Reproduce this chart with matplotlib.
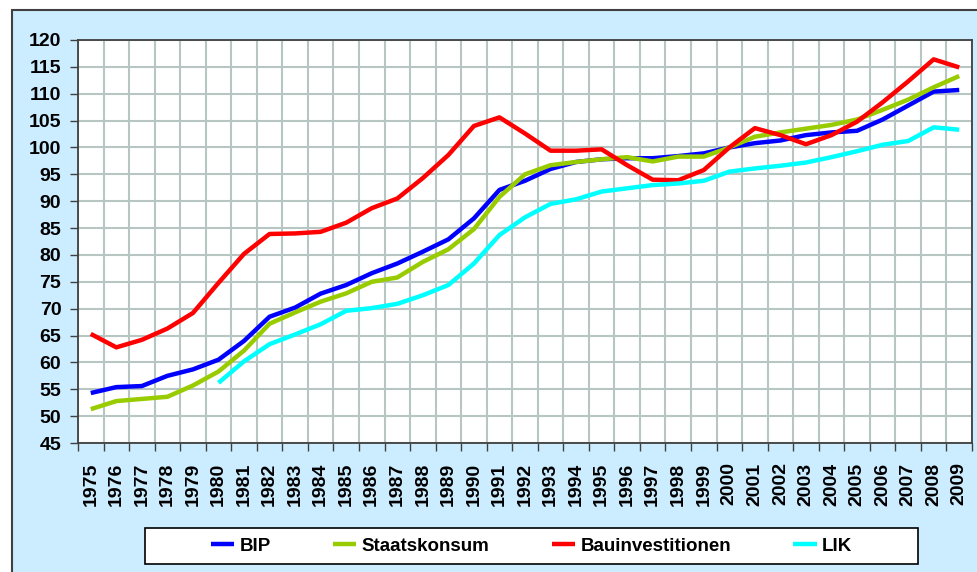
import numpy as np
import matplotlib
matplotlib.use("Agg")
import matplotlib.pyplot as plt
from matplotlib.patches import Rectangle
from matplotlib.ticker import FixedLocator, NullFormatter

plt.rcParams['font.family'] = ['Liberation Sans', 'DejaVu Sans']

years = list(range(1975, 2010))
bip = [54.3, 55.4, 55.6, 57.5, 58.7, 60.5, 64.0, 68.5, 70.2, 72.8,
       74.4, 76.6, 78.4, 80.6, 82.9, 86.8, 92.1, 93.8, 96.0, 97.3,
       97.8, 98.0, 98.0, 98.4, 98.9, 100.0, 100.8, 101.3, 102.3, 102.8,
       103.1, 105.2, 107.8, 110.4, 110.7]
staatskonsum = [51.3, 52.8, 53.2, 53.6, 55.7, 58.3, 62.2, 67.2, 69.3, 71.3,
                72.85, 75.0, 75.8, 78.7, 81.05, 84.8, 90.8, 95.0, 96.7, 97.3,
                97.8, 98.2, 97.4, 98.3, 98.3, 100.0, 102.0, 102.8, 103.5, 104.2,
                105.2, 107.0, 108.9, 111.2, 113.3]
bauinvestitionen = [65.3, 62.8, 64.2, 66.3, 69.2, 74.8, 80.2, 83.9, 84.0, 84.3,
                    86.0, 88.7, 90.5, 94.3, 98.6, 104.0, 105.6, 102.6, 99.4, 99.4,
                    99.65, 96.7, 94.0, 93.9, 95.8, 100.0, 103.6, 102.3, 100.6, 102.3,
                    104.8, 108.4, 112.3, 116.4, 114.9]
lik = [np.nan, np.nan, np.nan, np.nan, np.nan, 56.2, 60.2, 63.4, 65.2, 67.1,
       69.6, 70.1, 70.9, 72.5, 74.4, 78.4, 83.7, 87.0, 89.5, 90.35,
       91.8, 92.4, 93.0, 93.3, 93.8, 95.5, 96.1, 96.6, 97.2, 98.2,
       99.3, 100.5, 101.2, 103.75, 103.3]

series = [("BIP", bip, "#0000FF"),
          ("Staatskonsum", staatskonsum, "#99CC00"),
          ("Bauinvestitionen", bauinvestitionen, "#FF0000"),
          ("LIK", lik, "#00FFFF")]

W, H = 978, 572
fig = plt.figure(figsize=(W / 100, H / 100), dpi=100)
fig.patch.set_facecolor("white")

# light blue chart panel with border
panel = Rectangle((12 / W, -0.05), 1.1, 1 - 10 / H + 0.05, transform=fig.transFigure,
                  facecolor="#CCECFF", edgecolor="#404040", linewidth=1.5, zorder=-5)
fig.add_artist(panel)

# legend box
legbox = Rectangle((145 / W, 1 - 564 / H), (918 - 145) / W, 36 / H, transform=fig.transFigure,
                   facecolor="white", edgecolor="black", linewidth=1.2, zorder=-4)
fig.add_artist(legbox)

ax = fig.add_axes([78 / W, 1 - 443 / H, (972 - 78) / W, (443 - 40) / H])
ax.set_facecolor("white")

x = np.arange(len(years))
for name, vals, col in series:
    ax.plot(x, vals, color=col, linewidth=3.2, label=name, solid_joinstyle="round",
            solid_capstyle="butt", zorder=3)

ax.set_xlim(-0.5, len(years) - 0.5)
ax.set_ylim(45, 120)
ax.set_yticks(np.arange(45, 121, 5))
ax.set_xticks(x)
ax.set_xticklabels([str(y) for y in years], rotation=90, fontsize=14, fontweight="bold")
ax.xaxis.set_minor_locator(FixedLocator(np.arange(-0.5, len(years), 1.0)))
ax.xaxis.set_minor_formatter(NullFormatter())
ax.tick_params(axis="x", which="major", length=0, pad=14)
ax.tick_params(axis="x", which="minor", length=6, width=1.0, color="#404040", direction="out")
ax.tick_params(axis="y", which="major", length=6, width=1.0, color="#404040", direction="out",
               labelsize=14, pad=6)
for lab in ax.get_yticklabels():
    lab.set_fontweight("bold")

ax.grid(True, axis="y", which="major", color="#B7C6C2", linewidth=1.5, zorder=1)
ax.grid(True, axis="x", which="minor", color="#B7C6C2", linewidth=1.5, zorder=1)
ax.grid(False, axis="x", which="major")
ax.set_axisbelow(True)
for sp in ax.spines.values():
    sp.set_color("#404040")
    sp.set_linewidth(1.3)

leg = fig.legend(loc="center", bbox_to_anchor=((145 + 918) / 2 / W, 1 - 546 / H),
                 ncol=4, frameon=False,
                 prop={"size": 13.5, "weight": "bold"}, handlelength=1.25,
                 handletextpad=0.3, columnspacing=3.3, borderpad=0.0,
                 borderaxespad=0)
for line in leg.get_lines():
    line.set_linewidth(3.2)

fig.savefig("out.png", dpi=100)
